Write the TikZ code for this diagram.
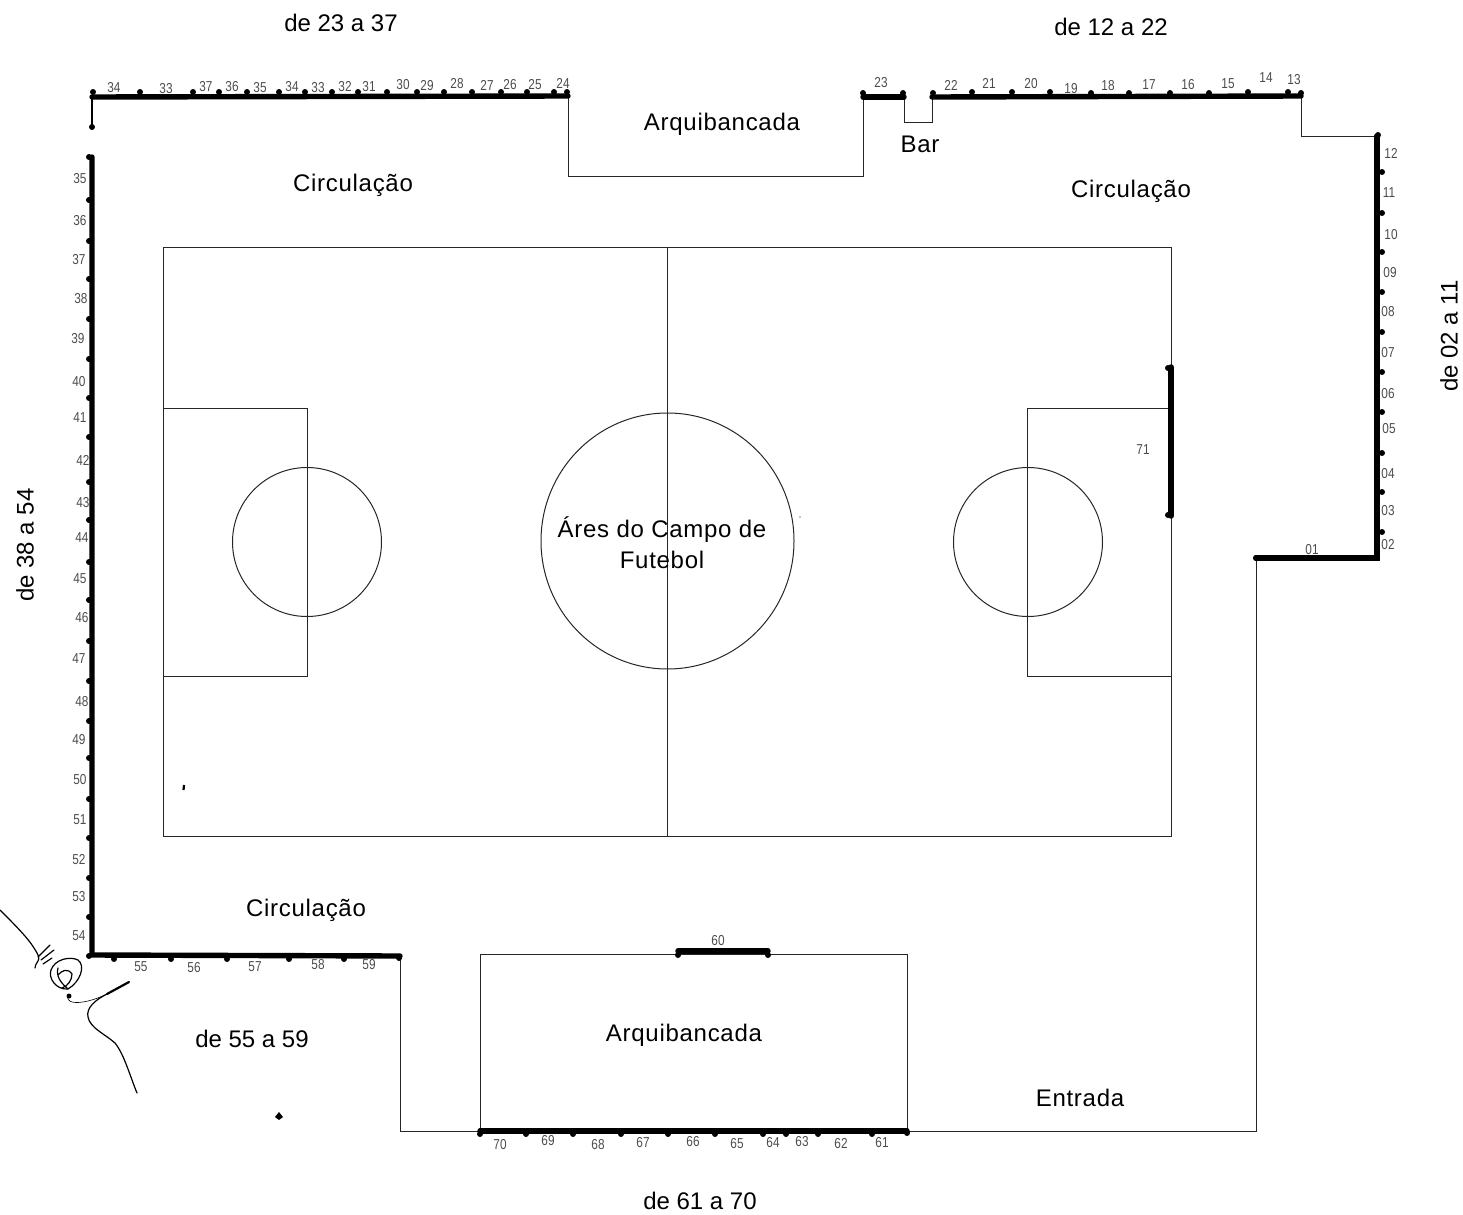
\documentclass[tikz,border=0pt]{standalone}
\usepackage{fontspec}
\setmainfont{Liberation Sans}
\newfontfamily\bigtxt[LetterSpace=3]{Liberation Sans}
\tikzset{
  x=0.5pt,y=-0.5pt,
  wall/.style={line width=2.7pt,line cap=round},
  midwall/.style={line width=1.1pt,line cap=round},
  thinline/.style={line width=0.5pt,black!85},
  scribble/.style={line width=0.6pt,line cap=round},
  lbl/.style={inner sep=0pt,font=\fontsize{7.2}{8}\selectfont,text=black!70},
  big/.style={inner sep=0pt,align=center,font=\bigtxt\fontsize{12}{15.5}\selectfont},
  plain/.style={inner sep=0pt,font=\fontsize{12}{14}\selectfont},
  dotmark/.style={fill=black,draw=none}
}
\begin{document}
\begin{tikzpicture}
\useasboundingbox (0,0) rectangle (1463,1215);
% outline corners
\coordinate (a0) at (92,127);
\coordinate (a1) at (92,97);
\coordinate (a2) at (568,96);
\coordinate (a3) at (568,176);
\coordinate (a4) at (863,176);
\coordinate (a5) at (863,97);
\coordinate (a6) at (904,97);
\coordinate (a7) at (904,122);
\coordinate (a8) at (932,122);
\coordinate (a9) at (932,97);
\coordinate (b0) at (1301,96);
\coordinate (b1) at (1301,136);
\coordinate (b2) at (1377,136);
\coordinate (b3) at (1377,558);
\coordinate (b4) at (1256,558);
\coordinate (b5) at (1256,1131);
\coordinate (b6) at (907,1131);
\coordinate (b7) at (480,1131);
\coordinate (b8) at (400,1131);
\coordinate (b9) at (400,956);
\coordinate (c0) at (92,955);
\coordinate (c1) at (92,157);
\coordinate (s0) at (480,954);
\coordinate (s1) at (907,954);
\coordinate (s2) at (678,951);
\coordinate (s3) at (768,951);
% thin outline
\draw[thinline] (a2) -- (a3) -- (a4) -- (a5);
\draw[thinline] (a6) -- (a7) -- (a8) -- (a9);
\draw[thinline] (b0) -- (b1) -- (b2);
\draw[thinline] (b4) -- (b5) -- (b6);
\draw[thinline] (b7) -- (b8) -- (b9);
\draw[thinline] (b7) -- (s0) -- (s1) -- (b6);
% thick walls
\draw[midwall] (a0) -- (a1);
\draw[wall] (a1) -- (a2);
\draw[wall] (a5) -- (a6);
\draw[wall] (a9) -- (b0);
\draw[wall] (b2) -- (b3) -- (b4);
\draw[wall] (b6) -- (b7);
\draw[wall] (b9) -- (c0) -- (c1);
\draw[wall] (s2) -- (s3);
% field
\coordinate (f0) at (163,247);
\coordinate (f1) at (1171,836);
\coordinate (m0) at (667,247);
\coordinate (m1) at (667,836);
\coordinate (cc) at (667.5,541);
\coordinate (lc) at (307,542);
\coordinate (rc) at (1028,542);
\draw[thinline] (f0) rectangle (f1);
\draw[thinline] (m0) -- (m1);
\draw[thinline] (163,408) rectangle (307,676);
\draw[thinline] (1027,408) rectangle (1171,676);
\draw[thinline] (cc) circle[x radius=126.5,y radius=128];
\draw[thinline] (lc) circle[radius=74.5];
\draw[thinline] (rc) circle[radius=74.5];
\coordinate (g0) at (1171,367);
\coordinate (g1) at (1171,516);
\draw[wall] (g0) -- (g1);
% dots
\foreach \px/\py in {
 93/92,140/92,193/92,219/92,247/92,279/92,305/92,332/92,358/92,387/92,417/92,444/92,472/92,501/92,527/92,554/92,567/92,
 92/127,
 863/93,903/93,933/93,972/92,1012/92,1050/92,1091/93,1129/93,1170/93,1209/93,1248/92,1288/92,1301/93,
 1378/135,1382/172,1382/213,1382/252,1382/292,1382/332,1382/372,1382/412,1382/453,1382/492,1382/532,1256/558,
 89/157,89/200,89/241,89/279,89/319,89/359,89/398,89/437,89/482,89/520,89/562,89/600,89/641,89/681,89/721,89/758,89/799,89/838,89/878,89/917,89/956,
 114/959,171/959,227/959,289/959,344/959,399/958,
 480/1134,526/1134,573/1134,621/1134,668/1134,715/1134,763/1134,786/1134,818/1134,872/1134,907/1133,
 678/955,768/955,
 1168/368,1168/515}
  \fill[dotmark] (\px,\py) circle[radius=3];
\fill[dotmark] (800,517) circle[radius=0.7];
\draw[line width=1.1pt] (184,785) -- (183.5,790);
% small number labels
\foreach \t/\px/\py [count=\i] in {
 34/114/88,33/166/89,37/206/87,36/232/87,35/260/88,34/292/87,33/318/88,32/345/87,31/369/87,30/403/85,29/427/86,28/457/84,27/487/85,26/510/85,25/535/85,24/563/83,
 23/881/83,22/951/85,21/989/83,20/1031/84,19/1071/89,18/1108/86,17/1149/85,16/1188/85,15/1228/84,14/1266/78,13/1294/80,
 12/1391/153,11/1389/193,10/1391/235,09/1390/273,08/1388/312,07/1388/353,06/1388/394,05/1389/429,04/1388/474,03/1388/511,02/1388/545,01/1312/550,
 35/80/179,36/80/221,37/79/260,38/81/299,39/78/339,40/79/382,41/80/418,42/83/460,43/83/503,44/82/538,45/80/579,46/82/618,47/79/659,48/82/702,49/79/740,50/80/780,51/80/820,52/79/860,53/79/897,54/79/936,
 55/141/967,56/194/968,57/255/967,58/318/965,59/369/965,
 60/718/941,
 70/500/1145,69/548/1141,68/598/1145,67/643/1143,66/693/1142,65/737/1144,64/773/1143,63/802/1142,62/841/1144,61/882/1143,
 71/1143/450}
  \node[lbl] (n\i) at (\px,\py) {\scalebox{0.82}[1]{\t}};
% large labels
\node[plain] (t1) at (341,23) {de 23 a 37};
\node[plain] (t2) at (1111,27) {de 12 a 22};
\node[big] (t3) at (722,124) {Arquibancada};
\node[big] (t4) at (920,144) {Bar};
\node[big] (t5) at (353,185) {Circulação};
\node[big] (t6) at (1131,191) {Circulação};
\node[big] (t7) at (306,910) {Circulação};
\node[plain,rotate=90] (t8) at (1449,336) {de 02 a 11};
\node[plain,rotate=90] (t9) at (25,545) {de 38 a 54};
\node[plain] (t10) at (252,1039) {de 55 a 59};
\node[big] (t11) at (684,1035) {Arquibancada};
\node[big] (t12) at (1080,1098) {Entrada};
\node[plain] (t13) at (700,1201) {de 61 a 70};
\node[big] (t14) at (662,543) {Áres do Campo de\\Futebol};
% handwritten marks
\draw[scribble] (0,910) .. controls (14,924) and (28,938) .. (34,948) .. controls (38,954) and (40,958) .. (38,961) .. controls (36,964) and (35,966) .. (35,968);
\draw[scribble] (38,957) -- (50,945) (41,960) -- (54,950) (43,964) -- (52,958);
\draw[scribble] (68,989) .. controls (56,990) and (48,978) .. (51,970) .. controls (55,959) and (70,956) .. (78,960) .. controls (86,966) and (80,982) .. (68,989);
\draw[scribble] (68,989) .. controls (60,982) and (56,976) .. (58,968) (58,975) .. controls (62,970) and (68,968) .. (72,974) .. controls (72,980) and (68,986) .. (62,988);
\draw[line width=1.1pt,line cap=round] (129,982) -- (107,994);
\draw[scribble] (107,994) .. controls (95,1000) and (86,1008) .. (88,1017) .. controls (90,1028) and (105,1034) .. (115,1043) .. controls (124,1054) and (130,1076) .. (137,1093);
\draw[line width=0.3pt] (107,994) .. controls (95,1000) and (80,1004) .. (72,1002) .. controls (69,1001) and (67,999) .. (68,996);
\fill[dotmark] (69,996) circle[radius=2.5];
\fill[dotmark] (279,1112) -- (283,1117) -- (279,1120) -- (275,1117) -- cycle;
\end{tikzpicture}
\end{document}
